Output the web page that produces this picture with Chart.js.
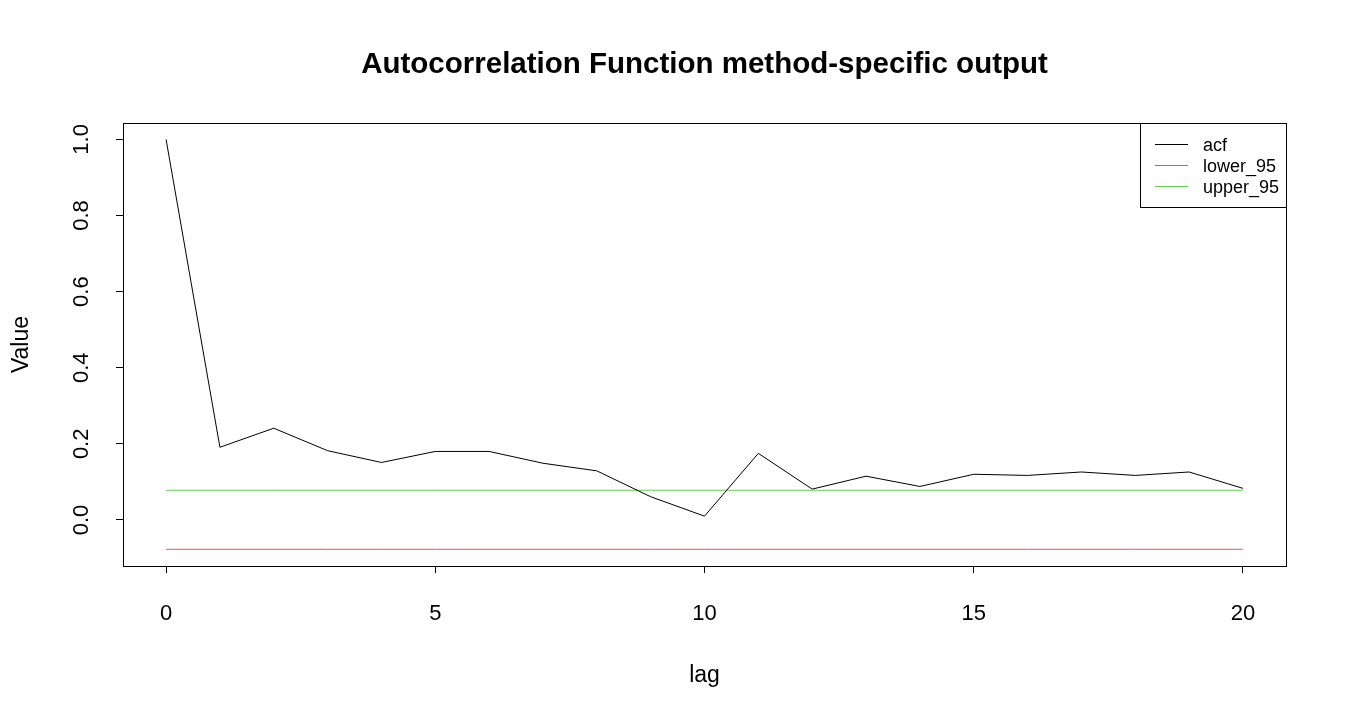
<!DOCTYPE html>
<html>
<head>
<meta charset="utf-8">
<script src="https://cdn.jsdelivr.net/npm/chart.js@4/dist/chart.umd.min.js"></script>
<style>
  body { margin: 0; background: #fff; }
  canvas { display: block; }
</style>
</head>
<body>
<canvas id="myChart" width="1350" height="720"></canvas>
<script>
const ctx = document.getElementById("myChart");

// lags 0..20
var lags = [0, 1, 2, 3, 4, 5, 6, 7, 8, 9, 10, 11, 12, 13, 14, 15, 16, 17, 18, 19, 20];
var acfValues = [1.0, 0.191, 0.241, 0.182, 0.151, 0.180, 0.180, 0.149, 0.129, 0.061, 0.010,
                 0.175, 0.081, 0.115, 0.088, 0.120, 0.117, 0.126, 0.117, 0.126, 0.083];
var lowerValues = lags.map(() => -0.077);
var upperValues = lags.map(() => 0.078);
var seriesNames = ["acf", "lower_95", "upper_95"];
var seriesColors = ["#000000", "#DF536B", "#61D04F"];
var xTicks = [0, 5, 10, 15, 20];
var yTicks = [0.0, 0.2, 0.4, 0.6, 0.8, 1.0];

var FONT = "'Liberation Sans', Arial, sans-serif";

function pts(vals) {
    return lags.map((l, i) => ({ x: l, y: vals[i] }));
}

const rPlot = {
    id: "rPlot",
    afterDraw(chart) {
        const c = chart.ctx;
        const a = chart.chartArea;
        const ys = chart.scales.y;
        c.save();
        // box
        c.strokeStyle = "#000";
        c.lineWidth = 1;
        c.strokeRect(Math.round(a.left) + 0.5, Math.round(a.top) + 0.5,
            Math.round(a.right - a.left), Math.round(a.bottom - a.top));

        // y tick labels, rotated like R
        c.fillStyle = "#000";
        c.font = "22px " + FONT;
        c.textAlign = "center";
        c.textBaseline = "alphabetic";
        yTicks.forEach(v => {
            const py = ys.getPixelForValue(v);
            c.save();
            c.translate(88, py);
            c.rotate(-Math.PI / 2);
            c.fillText(v.toFixed(1), 0, 0);
            c.restore();
        });

        // title
        c.font = "bold 29.5px " + FONT;
        c.fillText("Autocorrelation Function method-specific output", (a.left + a.right) / 2, 73);

        // axis titles
        c.font = "23px " + FONT;
        c.fillText("lag", (a.left + a.right) / 2, 682);
        c.save();
        c.translate(28, (a.top + a.bottom) / 2);
        c.rotate(-Math.PI / 2);
        c.fillText("Value", 0, 0);
        c.restore();

        // legend
        const lx = 1140, ly = Math.round(a.top), lw = Math.round(a.right) - 1140, lh = 84;
        c.fillStyle = "#fff";
        c.fillRect(lx, ly, lw, lh);
        c.strokeStyle = "#000";
        c.strokeRect(lx + 0.5, ly + 0.5, lw, lh);
        c.font = "18px " + FONT;
        c.textAlign = "left";
        const rows = [151, 172, 193];
        seriesNames.forEach((name, i) => {
            c.strokeStyle = seriesColors[i];
            c.beginPath();
            c.moveTo(1155, rows[i] - 6.5);
            c.lineTo(1188, rows[i] - 6.5);
            c.stroke();
            c.fillStyle = "#000";
            c.fillText(name, 1203, rows[i]);
        });
        c.restore();
    }
};

new Chart(ctx, {
    type: "line",
    data: {
        datasets: [
            { label: seriesNames[0], data: pts(acfValues), borderColor: seriesColors[0] },
            { label: seriesNames[1], data: pts(lowerValues), borderColor: seriesColors[1] },
            { label: seriesNames[2], data: pts(upperValues), borderColor: seriesColors[2] },
        ],
    },
    options: {
        responsive: false,
        animation: false,
        devicePixelRatio: 1,
        elements: {
            point: { radius: 0 },
            line: { borderWidth: 1, tension: 0 },
        },
        layout: { padding: { top: 123, right: 64, left: 0, bottom: 0 } },
        plugins: {
            legend: { display: false },
            tooltip: { enabled: false },
            title: { display: false },
        },
        scales: {
            x: {
                type: "linear",
                min: -0.8,
                max: 20.8,
                afterBuildTicks: (s) => { s.ticks = xTicks.map(v => ({ value: v })); },
                afterFit: (s) => { s.height = 154; },
                border: { display: false },
                grid: { drawOnChartArea: false, drawTicks: true, tickLength: 7, color: "#000" },
                ticks: {
                    color: "#000",
                    padding: 28,
                    maxRotation: 0,
                    font: { size: 22, family: FONT },
                },
            },
            y: {
                type: "linear",
                min: -0.121,
                max: 1.043,
                afterBuildTicks: (s) => { s.ticks = yTicks.map(v => ({ value: v })); },
                afterFit: (s) => { s.width = 123; },
                border: { display: false },
                grid: { drawOnChartArea: false, drawTicks: true, tickLength: 7, color: "#000" },
                ticks: { display: false },
            },
        },
    },
    plugins: [rPlot],
});
</script>
</body>
</html>
